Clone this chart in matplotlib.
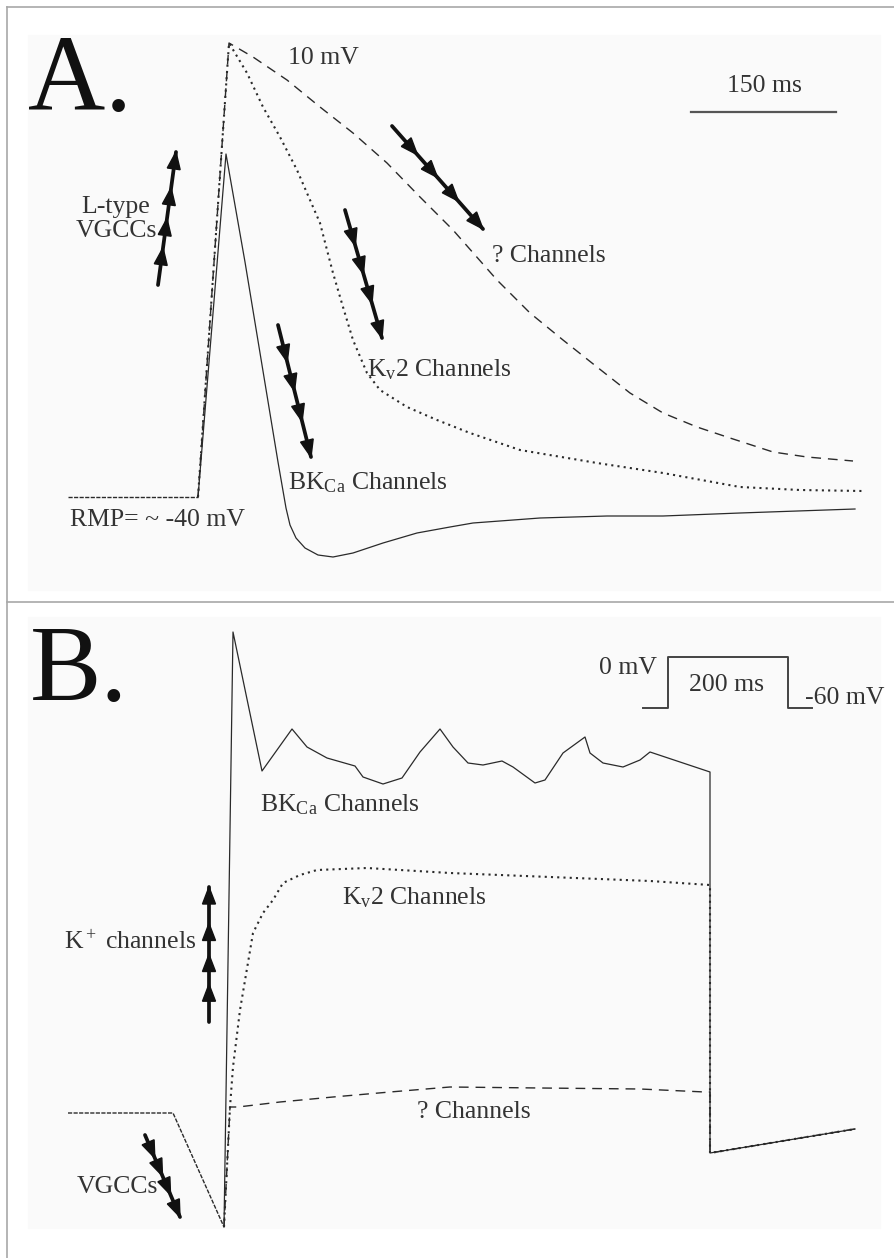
"""Schematic of membrane potential traces (panel A: action potential,
panel B: voltage step) drawn on a single pixel-like canvas.
"""
import numpy as np
import matplotlib
matplotlib.use("Agg")
import matplotlib.pyplot as plt
from matplotlib.patches import Polygon, Rectangle

plt.rcParams['font.family'] = ['Liberation Serif', 'DejaVu Serif']
plt.rcParams['mathtext.fontset'] = 'custom'
plt.rcParams['mathtext.rm'] = 'Liberation Serif'
plt.rcParams['mathtext.it'] = 'Liberation Serif:italic'

# ---- Panel A traces (x, y on the canvas; y grows downward) ----
a_base_x = [68, 198]
a_base_y = [497, 497]

a_bk_x = [198, 226, 245, 262, 278, 286, 290, 296, 305, 318, 333, 353, 383,
          417, 450, 473, 540, 607, 663, 740, 855]
a_bk_y = [497, 154, 262, 365, 462, 508, 525, 538, 548, 555, 557, 553, 543,
          533, 527, 523, 518, 516, 516, 513, 509]

a_kv_x = [198, 229, 247, 263, 280, 297, 310, 320, 327, 333, 343, 353, 367,
          380, 407, 437, 470, 520, 597, 663, 740, 800, 862]
a_kv_y = [497, 43, 73, 107, 137, 170, 200, 223, 250, 273, 307, 340, 373,
          390, 407, 420, 433, 450, 463, 473, 487, 490, 491]

a_q_x = [198, 229, 253, 287, 320, 353, 387, 420, 453, 475, 497, 530, 563,
         597, 630, 663, 697, 730, 773, 807, 853]
a_q_y = [497, 43, 57, 80, 107, 133, 163, 197, 230, 255, 280, 313, 340,
         367, 393, 413, 427, 438, 452, 457, 461]

# ---- Panel B traces ----
b_base_x = [68, 173, 224]
b_base_y = [1113, 1113, 1227]

b_bk_x = [224, 233, 262, 292, 307, 327, 355, 363, 383, 402, 420, 440, 453,
          468, 483, 502, 513, 535, 545, 563, 585, 590, 603, 623, 640, 650,
          710, 710, 855]
b_bk_y = [1227, 632, 771, 729, 747, 758, 766, 777, 784, 778, 752, 729, 747,
          763, 765, 761, 767, 783, 780, 753, 737, 753, 763, 767, 760, 752,
          772, 1153, 1129]

b_kv_x = [224, 230, 233, 240, 253, 263, 273, 283, 300, 317, 367, 450, 550,
          650, 710, 710, 855]
b_kv_y = [1227, 1107, 1067, 1010, 933, 913, 900, 883, 875, 870, 868, 873,
          877, 881, 885, 1153, 1129]

b_q_x = [224, 230, 238, 280, 333, 390, 450, 540, 640, 705, 710, 710, 855]
b_q_y = [1227, 1107, 1107, 1102, 1097, 1092, 1087, 1088, 1089, 1092, 1092,
         1153, 1129]

# voltage step protocol (inset)
step_x = [643, 668, 668, 788, 788, 812]
step_y = [708, 708, 657, 657, 708, 708]

# multi-headed arrows: (tail, tip)
arrows = [
    ((158, 285), (176, 152)),   # L-type VGCCs
    ((345, 210), (382, 338)),   # Kv2 (A)
    ((392, 126), (483, 229)),   # ? channels (A)
    ((278, 325), (311, 457)),   # BKCa (A)
    ((209, 1022), (209, 887)),  # K+ channels (B)
    ((145, 1135), (180, 1217)), # VGCCs (B)
]
head_fracs = [0.28, 0.50, 0.73, 1.0]

ink = '#2a2a2a'
dash = (0, (7, 5))
dots = (0, (1, 2))

fig = plt.figure(figsize=(8.95, 12.58), dpi=100)
ax = fig.add_axes([0, 0, 1, 1])
ax.set_xlim(0, 895)
ax.set_ylim(1258, 0)
ax.axis('off')

# faint panel backgrounds and frame
for y0, y1 in [(35, 590), (617, 1228)]:
    ax.add_patch(Rectangle((28, y0), 852, y1 - y0, color='#fafafa', zorder=0))
frame = '#a8a8a8'
ax.plot([7, 895], [7, 7], color=frame, lw=1.2)
ax.plot([7, 7], [7, 1258], color=frame, lw=1.2)
ax.plot([7, 895], [602, 602], color=frame, lw=1.2)

# panel A
ax.plot(a_base_x, a_base_y, color=ink, lw=1.0, linestyle=(0, (3, 1)))
ax.plot(a_bk_x, a_bk_y, color=ink, lw=0.9)
ax.plot(a_kv_x, a_kv_y, color=ink, lw=1.5, linestyle=dots)
ax.plot(a_q_x, a_q_y, color=ink, lw=1.0, linestyle=dash)

# panel B
ax.plot(b_base_x, b_base_y, color=ink, lw=1.0, linestyle=(0, (3, 1)))
ax.plot(b_bk_x, b_bk_y, color=ink, lw=0.9)
ax.plot(b_kv_x, b_kv_y, color=ink, lw=1.5, linestyle=dots)
ax.plot(b_q_x, b_q_y, color=ink, lw=1.0, linestyle=dash)
ax.plot(step_x, step_y, color='#444444', lw=1.4)

# scale bar
ax.plot([691, 836], [112, 112], color='#555555', lw=1.6)

# arrows: continuous shaft with several slim heads along it
head_len, head_half = 17, 6.5
for (x0, y0), (x1, y1) in arrows:
    ax.plot([x0, x1], [y0, y1], color='#111111', lw=2.7,
            solid_capstyle='round', zorder=5)
    u = np.array([x1 - x0, y1 - y0], dtype=float)
    u /= np.hypot(*u)
    n = np.array([-u[1], u[0]])
    for f in head_fracs:
        tip = np.array([x0 + f * (x1 - x0), y0 + f * (y1 - y0)])
        base = tip - head_len * u
        ax.add_patch(Polygon([tip, base + head_half * n, base - head_half * n],
                             closed=True, color='#111111', zorder=6))

txt = dict(color='#333333', fontsize=18.5)
ax.text(28, 110, 'A.', fontsize=77, color='#111111', va='baseline')
ax.text(30, 700, 'B.', fontsize=77, color='#111111', va='baseline')

ax.text(288, 58, '10 mV', va='center', ha='left', **txt)
ax.text(764, 86, '150 ms', va='center', ha='center', **txt)
ax.text(116, 219, 'L-type\nVGCCs', va='center', ha='center',
        linespacing=1.15, **txt)
ax.text(492, 256, '? Channels', va='center', ha='left', **txt)
ax.text(367, 370, r'K$_\mathrm{v}$2 Channels', va='center', ha='left', **txt)
ax.text(288, 483, r'BK$_\mathrm{Ca}$ Channels', va='center', ha='left', **txt)
ax.text(70, 520, 'RMP= ~ -40 mV', va='center', ha='left', **txt)

ax.text(657, 668, '0 mV', va='center', ha='right', **txt)
ax.text(727, 685, '200 ms', va='center', ha='center', **txt)
ax.text(805, 698, '-60 mV', va='center', ha='left', **txt)
ax.text(260, 805, r'BK$_\mathrm{Ca}$ Channels', va='center', ha='left', **txt)
ax.text(342, 898, r'K$_\mathrm{v}$2 Channels', va='center', ha='left', **txt)
ax.text(417, 1112, '? Channels', va='center', ha='left', **txt)
ax.text(196, 942, r'K$^+$ channels', va='center', ha='right', **txt)
ax.text(77, 1187, 'VGCCs', va='center', ha='left', **txt)

fig.savefig('out.png', dpi=100, facecolor='white')
